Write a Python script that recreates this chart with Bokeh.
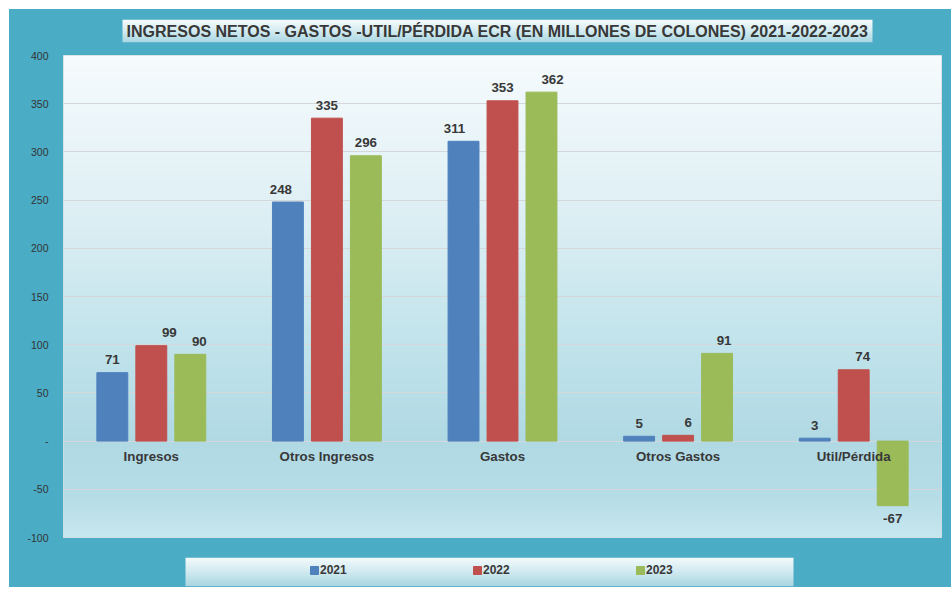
import numpy as np
from bokeh.plotting import figure
from bokeh.layouts import column
from bokeh.models import (ColumnDataSource, FactorRange, Range1d, FixedTicker,
                          Label, Legend, LegendItem)
from bokeh.transform import dodge
from bokeh.core.properties import value
from bokeh.embed import file_html
from bokeh.resources import INLINE

# ---- data ----
categories = ["Ingresos", "Otros Ingresos", "Gastos", "Otros Gastos", "Util/Pérdida"]
years = ["2021", "2022", "2023"]
v2021 = [71, 248, 311, 5, 3]
v2022 = [99, 335, 353, 6, 74]
v2023 = [90, 296, 362, 91, -67]
y_ticks = [-100, -50, 0, 50, 100, 150, 200, 250, 300, 350, 400]
title_text = "INGRESOS NETOS - GASTOS -UTIL/PÉRDIDA ECR (EN MILLONES DE COLONES) 2021-2022-2023"

# ---- style ----
colors = ["#4F81BD", "#C0504D", "#9BBB59"]
label_nudge_px = [[0, -7, -9, 0, 0], [18, 0, 0, 10, 9], [9, 0, 11, 7, 0]]  # label x-nudges
TEAL = "#4BACC6"
FONT = "Liberation Sans"
TXT = "#383838"
W = 942
BL, BR = 54, 10          # shared left/right borders -> same frame for all strips
FW = W - BL - BR         # frame width in px


def hex2rgb(h):
    h = h.lstrip("#")
    return [int(h[i:i + 2], 16) for i in (0, 2, 4)]


def gradient_image(stops_pos, stops_col, n):
    """vertical gradient, row 0 = bottom; stops_pos in 0..1 from bottom"""
    pos = np.linspace(0, 1, n)
    rgb = np.array([hex2rgb(c) for c in stops_col], dtype=float)
    img = np.empty((n, 1), dtype=np.uint32)
    v = img.view(dtype=np.uint8).reshape((n, 1, 4))
    for ch in range(3):
        v[:, 0, ch] = np.round(np.interp(pos, stops_pos, rgb[:, ch])).astype(np.uint8)
    v[:, 0, 3] = 255
    return img


def strip_fig(height, top, bottom):
    fh = height - top - bottom
    f = figure(width=W, height=height, x_range=Range1d(0, FW), y_range=Range1d(0, fh),
               x_axis_type=None, y_axis_type=None, output_backend="svg",
               toolbar_location=None, title=None,
               min_border_left=BL, min_border_right=BR,
               min_border_top=top, min_border_bottom=bottom,
               border_fill_color=None, background_fill_color=None,
               outline_line_color=None)
    f.grid.visible = False
    return f, fh


# ---- title strip ----
pt, th = strip_fig(40, 10, 7)
tb_l, tb_r = 59, 809
pt.image_rgba(image=[gradient_image([0, 0.5, 1], ["#ABD7E3", "#D2EBF1", "#F7FBFC"], th)],
              x=tb_l, y=0, dw=tb_r - tb_l, dh=th, level="image")
pt.add_layout(Label(x=(tb_l + tb_r) / 2, y=th / 2, text=title_text, text_align="center",
                    text_baseline="middle", text_font=FONT, text_font_style="bold",
                    text_font_size="16px", text_color=TXT))

# ---- main chart ----
p = figure(x_range=FactorRange(*categories), y_range=Range1d(-100, 400),
           width=W, height=508, output_backend="svg", toolbar_location=None,
           title=None, min_border_left=BL, min_border_right=BR,
           min_border_top=6, min_border_bottom=20,
           border_fill_color=None, background_fill_color="#FFFFFF",
           outline_line_color="#D3DDE0")

ymin, ymax = p.y_range.start, p.y_range.end
bg_pos = [(y - ymin) / (ymax - ymin) for y in [-100, -60, 0, 100, 250, 400]]
bg_col = ["#C7E7EF", "#B6DDE7", "#B0D9E4", "#C1E3EB", "#E0F0F5", "#F6FBFD"]
p.image_rgba(image=[gradient_image(bg_pos, bg_col, 500)], x=0, y=ymin,
             dw=len(categories), dh=ymax - ymin, level="image")

p.xgrid.visible = False
p.ygrid.ticker = FixedTicker(ticks=y_ticks)
p.ygrid.grid_line_color = "#D4D8DA"

p.yaxis.ticker = FixedTicker(ticks=y_ticks)
p.yaxis.major_label_overrides = {t: ("-" if t == 0 else str(t)) for t in y_ticks}
p.yaxis.axis_line_color = None
p.yaxis.major_tick_line_color = None
p.yaxis.minor_tick_line_color = None
p.yaxis.major_tick_out = 0
p.yaxis.major_label_standoff = 15
p.yaxis.major_label_text_font = FONT
p.yaxis.major_label_text_font_size = "10.5px"
p.yaxis.major_label_text_color = "#333333"

p.xaxis.fixed_location = 0
p.xaxis.axis_line_color = None
p.xaxis.major_tick_line_color = None
p.xaxis.minor_tick_line_color = None
p.xaxis.major_tick_out = 0
p.xaxis.major_label_standoff = 8
p.xaxis.major_label_text_font = FONT
p.xaxis.major_label_text_font_style = "bold"
p.xaxis.major_label_text_font_size = "13.3px"
p.xaxis.major_label_text_color = TXT

series = [v2021, v2022, v2023]
offsets = [-0.222, 0.0, 0.222]
for yr, vals, col, off, nudge in zip(years, series, colors, offsets, label_nudge_px):
    src = ColumnDataSource(dict(cat=categories, val=vals,
                                lab=[str(v) for v in vals],
                                xoff=nudge,
                                yoff=[-13 if v >= 0 else 13 for v in vals]))
    p.vbar(x=dodge("cat", off, range=p.x_range), top="val", bottom=0,
           width=0.176, source=src, fill_color=col, line_color=col)
    p.text(x=dodge("cat", off, range=p.x_range), y="val", text="lab",
           x_offset="xoff", y_offset="yoff",
           source=src, text_align="center", text_baseline="middle",
           text_font=value(FONT), text_font_style="bold", text_font_size="13.3px",
           text_color=TXT)

# ---- legend strip ----
pl, lh = strip_fig(30, 0, 1)
lb_l, lb_r = 122, 730
pl.image_rgba(image=[gradient_image([0, 0.5, 1], ["#A9D5E1", "#D0EAF0", "#F3FAFB"], lh)],
              x=lb_l, y=0, dw=lb_r - lb_l, dh=lh, level="image")
items = []
for yr, col in zip(years, colors):
    # legend swatch only (NaN -> no visible mark)
    r = pl.vbar(x=[np.nan], top=[np.nan], width=1, fill_color=col, line_color=col)
    items.append(LegendItem(label=yr, renderers=[r]))
legend = Legend(items=items, location=(246, 9), orientation="horizontal",
                background_fill_alpha=0, border_line_alpha=0, padding=0, margin=0,
                spacing=124, glyph_width=10, glyph_height=10, label_standoff=1,
                label_width=28, label_height=12,
                label_text_font=FONT, label_text_font_style="bold",
                label_text_font_size="12px", label_text_color=TXT)
pl.add_layout(legend, "center")

layout = column(pt, p, pl, spacing=0, margin=(9, 0, 0, 9),
                styles={"background-color": TEAL})
open("out.html", "w").write(file_html(layout, INLINE))
